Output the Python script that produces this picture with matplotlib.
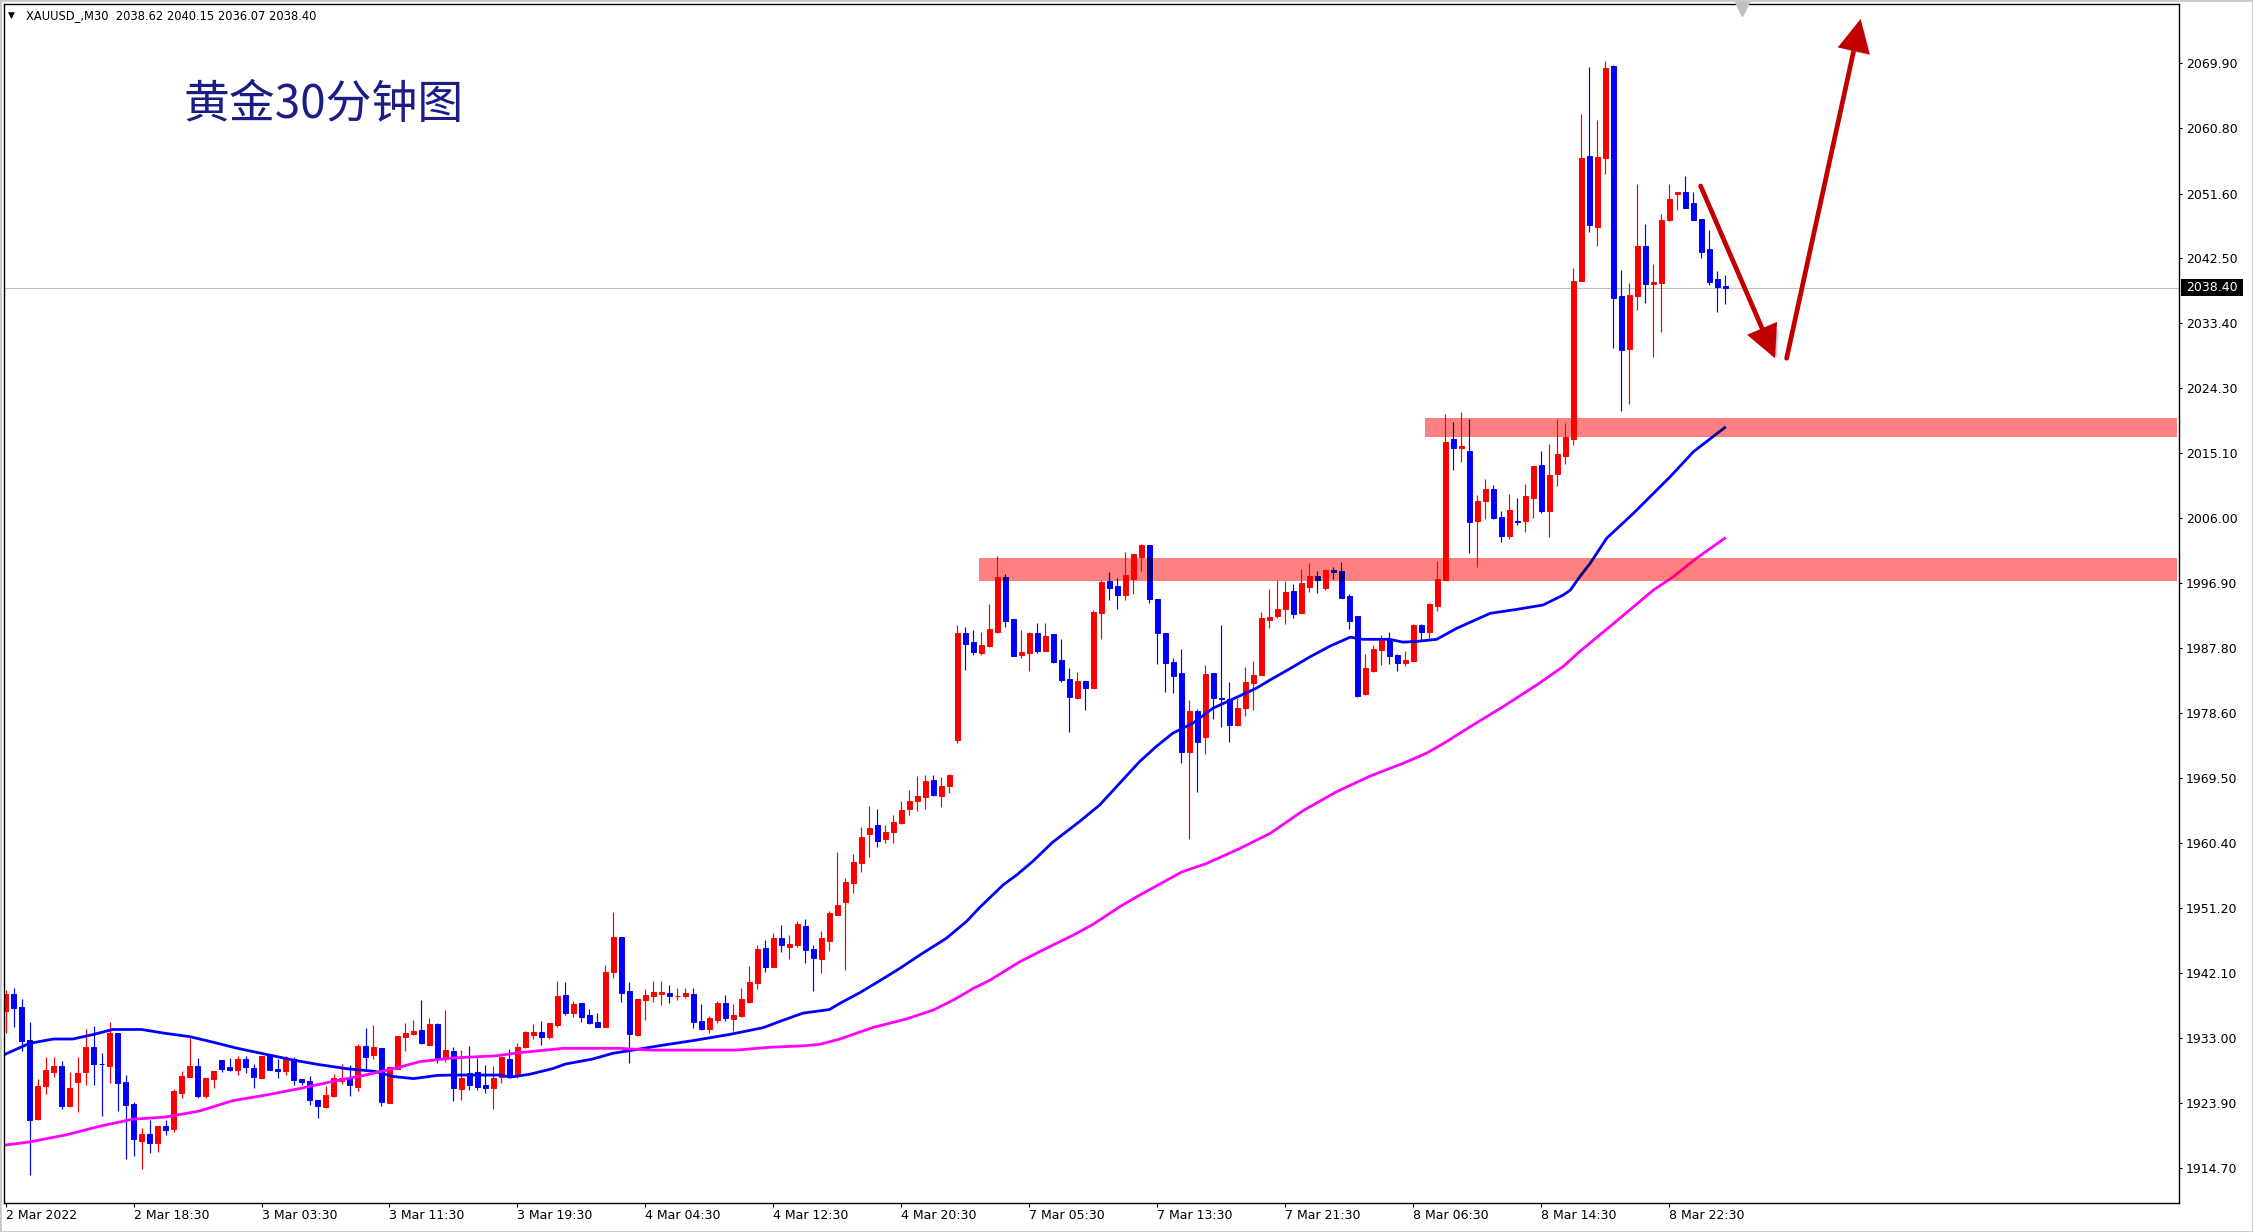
import matplotlib
matplotlib.use("Agg")
import matplotlib.pyplot as plt
import matplotlib.patheffects as pe
import matplotlib.transforms as mtransforms
from matplotlib.patches import Rectangle, FancyArrowPatch, ArrowStyle
import numpy as np

# --- data (XAUUSD, M30) ---
opens = [
    1936.84, 1939.18, 1937.35, 1932.67, 1921.62, 1926.30, 1928.22, 1929.06, 1923.45, 1926.82,
    1928.22, 1931.73, 1929.39, 1929.11, 1933.70, 1926.82, 1923.73, 1918.58, 1919.47, 1918.30,
    1920.64, 1920.22, 1925.32, 1927.57, 1929.06, 1924.85, 1927.29, 1929.91, 1928.92, 1928.50,
    1930.05, 1928.78, 1927.43, 1930.47, 1928.64, 1928.36, 1930.05, 1927.24, 1926.96, 1924.29,
    1923.31, 1924.85, 1926.96, 1927.38, 1926.12, 1931.87, 1930.61, 1931.59, 1923.87, 1928.64,
    1933.14, 1933.56, 1934.13, 1932.07, 1934.97, 1930.24, 1931.18, 1925.89, 1928.13, 1928.23,
    1926.40, 1926.03, 1927.57, 1930.05, 1927.80, 1931.69, 1933.47, 1933.84, 1933.19, 1934.83,
    1939.04, 1936.56, 1937.92, 1936.23, 1935.25, 1934.59, 1942.32, 1947.19, 1939.60, 1933.42,
    1938.39, 1938.95, 1939.23, 1939.32, 1938.85, 1938.95, 1939.18, 1935.39, 1934.31, 1935.58,
    1937.92, 1935.72, 1936.09, 1938.11, 1940.77, 1945.64, 1943.02, 1947.05, 1945.83, 1946.11,
    1948.73, 1945.50, 1944.15, 1946.67, 1950.33, 1952.15, 1954.82, 1957.63, 1961.61, 1962.92,
    1960.91, 1961.89, 1963.15, 1965.12, 1966.34, 1966.81, 1969.24, 1967.04, 1968.44, 1974.86,
    1989.89, 1988.62, 1987.13, 1988.11, 1990.08, 1997.75, 1991.85, 1986.84, 1987.13, 1989.89,
    1987.41, 1989.75, 1986.10, 1983.43, 1980.81, 1983.15, 1982.21, 1992.74, 1997.19, 1996.49,
    1995.27, 1997.52, 2000.61, 2002.25, 1994.66, 1989.89, 1985.81, 1984.27, 1973.22, 1978.93,
    1975.33, 1984.27, 1980.71, 1980.66, 1977.01, 1979.35, 1982.91, 1983.99, 1991.76, 1992.28,
    1993.31, 1995.84, 1992.75, 1996.40, 1997.90, 1996.16, 1998.74, 1998.60, 1995.09, 1992.28,
    1981.37, 1984.55, 1987.55, 1989.09, 1986.85, 1985.72, 1986.00, 1991.01, 1990.08, 1993.73,
    1997.33, 2017.12, 2015.91, 2015.47, 2005.65, 2008.46, 2010.10, 2006.18, 2003.57, 2005.61,
    2005.65, 2008.80, 2013.49, 2007.01, 2012.18, 2014.75, 2017.12, 2039.32, 2056.88, 2046.91,
    2056.63, 2069.55, 2037.24, 2029.84, 2037.24, 2044.25, 2038.88, 2039.03, 2047.93, 2051.51,
    2051.85, 2050.25, 2048.02, 2043.82, 2039.61, 2038.62,
]
highs = [
    1939.74, 1939.97, 1938.48, 1935.20, 1927.19, 1930.33, 1930.33, 1929.77, 1928.22, 1930.33,
    1934.26, 1934.68, 1930.89, 1935.20, 1933.70, 1927.80, 1924.01, 1920.31, 1921.48, 1920.64,
    1921.48, 1925.79, 1928.36, 1932.95, 1930.19, 1927.38, 1928.36, 1929.91, 1930.19, 1930.47,
    1930.47, 1929.35, 1930.47, 1930.47, 1930.09, 1930.47, 1930.33, 1927.24, 1927.66, 1924.29,
    1926.26, 1927.94, 1929.35, 1929.21, 1932.15, 1934.40, 1934.82, 1931.59, 1929.06, 1933.28,
    1935.10, 1935.53, 1938.34, 1935.81, 1935.11, 1936.94, 1931.79, 1931.32, 1931.88, 1930.24,
    1929.21, 1929.07, 1930.38, 1931.46, 1932.30, 1934.03, 1934.97, 1935.39, 1935.11, 1941.06,
    1940.87, 1938.20, 1937.92, 1937.08, 1936.51, 1943.26, 1950.70, 1947.19, 1940.87, 1938.48,
    1939.88, 1941.01, 1941.01, 1940.45, 1940.03, 1940.03, 1940.03, 1937.78, 1936.09, 1938.20,
    1939.04, 1937.78, 1940.03, 1943.11, 1946.06, 1946.77, 1947.75, 1948.87, 1947.47, 1949.44,
    1949.72, 1946.06, 1948.03, 1950.84, 1959.13, 1955.48, 1958.85, 1962.69, 1965.64, 1965.17,
    1962.92, 1964.32, 1966.29, 1967.84, 1969.80, 1969.94, 1969.94, 1969.66, 1970.08, 1991.01,
    1990.73, 1990.31, 1990.03, 1993.96, 2000.70, 1998.17, 1991.85, 1990.31, 1990.03, 1991.29,
    1991.29, 1989.75, 1989.05, 1984.97, 1984.41, 1983.15, 1993.12, 1997.33, 1998.46, 1997.61,
    2001.27, 2000.98, 2002.39, 2002.25, 1994.66, 1989.89, 1986.42, 1987.69, 1980.48, 1979.21,
    1985.39, 1984.27, 1991.01, 1983.01, 1980.76, 1985.16, 1985.95, 1992.84, 1996.07, 1997.33,
    1997.24, 1996.77, 1998.88, 1999.67, 1998.60, 1998.88, 1999.16, 1999.86, 1995.37, 1992.28,
    1986.94, 1988.20, 1989.61, 1990.03, 1986.94, 1987.36, 1991.15, 1991.15, 1994.10, 2000.00,
    2020.65, 2019.53, 2020.89, 2019.92, 2009.28, 2011.55, 2010.73, 2007.01, 2009.43, 2008.89,
    2010.83, 2013.39, 2015.47, 2016.44, 2019.92, 2019.44, 2041.20, 2062.83, 2069.40, 2061.96,
    2070.23, 2069.65, 2040.87, 2039.03, 2052.96, 2047.35, 2041.69, 2048.70, 2052.96, 2051.85,
    2054.12, 2051.85, 2048.02, 2046.53, 2040.72, 2040.15,
]
lows = [
    1933.65, 1934.59, 1931.22, 1913.80, 1921.48, 1925.18, 1927.57, 1923.07, 1923.45, 1922.65,
    1926.44, 1926.44, 1922.09, 1926.72, 1922.79, 1916.05, 1916.42, 1914.64, 1916.89, 1917.03,
    1919.42, 1919.84, 1924.62, 1927.57, 1924.57, 1924.57, 1925.97, 1928.22, 1928.41, 1927.80,
    1928.08, 1925.97, 1927.43, 1928.50, 1927.38, 1927.80, 1926.40, 1926.40, 1923.59, 1921.76,
    1923.17, 1924.71, 1926.54, 1924.85, 1925.55, 1928.50, 1930.05, 1923.45, 1923.87, 1928.64,
    1931.17, 1933.42, 1932.16, 1931.97, 1929.44, 1929.68, 1924.20, 1924.29, 1925.70, 1925.70,
    1925.32, 1923.08, 1926.73, 1927.71, 1927.34, 1931.55, 1932.91, 1932.02, 1932.91, 1934.59,
    1936.28, 1936.00, 1935.30, 1935.02, 1934.59, 1934.59, 1941.48, 1938.11, 1929.54, 1933.28,
    1935.58, 1938.11, 1937.68, 1937.96, 1938.34, 1938.67, 1934.45, 1934.17, 1933.75, 1935.16,
    1935.44, 1934.03, 1936.00, 1937.96, 1939.93, 1942.32, 1943.02, 1945.13, 1944.15, 1945.83,
    1943.58, 1939.65, 1942.18, 1945.27, 1950.33, 1942.60, 1953.42, 1956.37, 1958.38, 1959.88,
    1960.44, 1960.44, 1963.06, 1964.32, 1964.93, 1965.12, 1966.99, 1965.50, 1967.46, 1974.39,
    1984.69, 1986.85, 1986.85, 1987.87, 1989.94, 1990.78, 1986.70, 1986.42, 1984.60, 1987.13,
    1987.41, 1985.72, 1983.05, 1976.03, 1980.66, 1979.07, 1982.21, 1989.09, 1994.52, 1993.31,
    1994.52, 1995.41, 1998.64, 1994.06, 1985.58, 1981.65, 1981.51, 1971.67, 1960.91, 1967.60,
    1972.94, 1977.86, 1976.73, 1974.62, 1976.87, 1978.28, 1979.07, 1983.99, 1990.64, 1992.04,
    1991.15, 1992.04, 1992.75, 1995.70, 1995.55, 1995.93, 1997.52, 1994.85, 1990.50, 1980.85,
    1981.23, 1984.41, 1985.39, 1985.53, 1984.60, 1985.30, 1986.00, 1988.91, 1988.91, 1993.03,
    1997.33, 2012.81, 2013.97, 2001.16, 1999.22, 2005.89, 2005.89, 2002.61, 2003.09, 2005.07,
    2004.11, 2005.99, 2006.77, 2003.38, 2010.59, 2013.64, 2016.29, 2039.32, 2046.19, 2044.25,
    2054.36, 2029.98, 2021.13, 2022.10, 2035.30, 2036.27, 2028.63, 2032.16, 2047.73, 2049.33,
    2049.62, 2047.93, 2042.61, 2038.79, 2035.01, 2036.07,
]
closes = [
    1939.18, 1937.26, 1932.62, 1921.53, 1926.26, 1928.50, 1929.06, 1923.45, 1925.97, 1928.13,
    1931.73, 1929.39, 1929.30, 1933.70, 1926.72, 1923.63, 1918.86, 1919.47, 1918.30, 1920.64,
    1920.12, 1925.55, 1927.66, 1929.06, 1924.85, 1927.38, 1928.36, 1928.69, 1928.50, 1930.05,
    1928.92, 1927.52, 1930.47, 1928.50, 1928.41, 1930.05, 1927.10, 1926.86, 1924.29, 1923.45,
    1924.99, 1927.38, 1927.38, 1926.40, 1931.87, 1930.33, 1931.73, 1924.01, 1928.92, 1933.28,
    1933.70, 1933.98, 1932.25, 1934.97, 1930.15, 1931.32, 1926.03, 1927.43, 1926.45, 1926.17,
    1926.03, 1927.43, 1930.38, 1927.80, 1931.74, 1933.89, 1933.84, 1933.19, 1935.11, 1938.90,
    1936.56, 1937.78, 1936.00, 1935.16, 1934.59, 1942.27, 1947.19, 1939.37, 1933.61, 1938.48,
    1939.04, 1939.46, 1939.46, 1938.95, 1938.90, 1939.32, 1935.30, 1934.31, 1935.81, 1937.92,
    1935.86, 1936.23, 1938.48, 1940.87, 1945.50, 1943.02, 1947.05, 1946.11, 1946.25, 1949.01,
    1945.41, 1944.29, 1947.05, 1950.56, 1951.68, 1954.91, 1957.72, 1961.28, 1962.45, 1960.72,
    1961.89, 1963.34, 1965.03, 1966.29, 1967.00, 1969.10, 1967.13, 1968.40, 1969.94, 1989.89,
    1988.39, 1987.27, 1988.20, 1990.45, 1997.75, 1991.62, 1986.70, 1987.22, 1989.89, 1987.41,
    1989.47, 1985.86, 1983.33, 1980.95, 1983.15, 1982.21, 1992.84, 1997.05, 1996.26, 1995.27,
    1998.03, 2000.98, 2002.25, 1994.71, 1989.94, 1985.72, 1983.90, 1973.22, 1978.93, 1974.62,
    1984.13, 1980.81, 1980.57, 1977.01, 1979.35, 1983.01, 1983.99, 1992.00, 1992.14, 1993.26,
    1995.65, 1992.61, 1996.91, 1997.90, 1997.33, 1998.74, 1998.50, 1994.85, 1991.62, 1981.09,
    1984.97, 1987.64, 1988.91, 1986.70, 1985.72, 1986.10, 1991.01, 1990.08, 1993.96, 1997.47,
    2016.78, 2015.91, 2016.10, 2005.51, 2008.41, 2010.10, 2006.04, 2003.57, 2007.10, 2005.46,
    2009.14, 2013.39, 2007.01, 2012.09, 2015.09, 2017.46, 2039.32, 2056.59, 2047.20, 2056.73,
    2069.26, 2036.99, 2029.69, 2037.38, 2044.25, 2038.84, 2039.13, 2047.93, 2050.83, 2051.85,
    2049.62, 2047.93, 2043.43, 2039.17, 2038.55, 2038.40,
]

# moving averages, read at points along the lines (bar index, price)
fast_ma_x = [0, 3, 6, 8.4, 11, 13.4, 17, 20, 23, 26, 29, 32.6, 36, 39, 42.6, 46.3, 48.4, 51, 54, 56,
             62, 63, 65.5, 68.4, 70, 73.4, 75.9, 78.4, 82.2, 86.3, 90.5, 94.7, 97.2, 99.7, 103, 104.3,
             106.8, 109.3, 111.8, 114.3, 117.6, 120.1, 121.8, 124.7, 126.4, 128.4, 130.9, 134.25,
             136.75, 139.7, 141.75, 143.8, 145.9, 148.4, 150.9, 153.4, 156.3, 158.1, 160.6, 163.1,
             165.6, 168.1, 169.7, 173, 174.7, 176.4, 178.9, 181.4, 183.9, 185.6, 188.9, 192.2,
             194.7, 195.6, 196.8, 198.1, 200.15, 203.5, 208.1, 211, 214.9]
fast_ma_y = [1930.75, 1932.25, 1932.86, 1932.86, 1933.5, 1934.2, 1934.2, 1933.65, 1933.2, 1932.4,
             1931.55, 1930.7, 1929.9, 1929.3, 1928.7, 1928.3, 1927.6, 1927.3, 1927.75, 1927.8,
             1927.8, 1927.5, 1927.9, 1928.7, 1929.35, 1930.05, 1930.85, 1931.3, 1932.0, 1932.7,
             1933.5, 1934.45, 1935.5, 1936.5, 1937.0, 1937.87, 1939.37, 1941.06, 1942.79, 1944.66,
             1947.0, 1949.34, 1951.36, 1954.5, 1955.9, 1957.8, 1960.5, 1963.4, 1965.7, 1969.3,
             1971.8, 1973.9, 1975.8, 1977.2, 1979.3, 1980.6, 1982.1, 1983.3, 1984.9, 1986.56,
             1988.06, 1989.3, 1989.0, 1989.0, 1988.6, 1988.7, 1989.0, 1990.54, 1991.8, 1992.65,
             1993.2, 1993.82, 1995.2, 1995.9, 1997.8, 1999.68, 2003.19, 2006.7, 2011.84, 2015.35,
             2018.72]
slow_ma_x = [0, 3, 7.6, 11.75, 15.9, 20, 24.25, 28.4, 32.6, 36.75, 40.9, 45, 49.25, 51.75, 55.9,
             61.3, 64.25, 69.7, 76.75, 80.9, 91.3, 95.5, 99.7, 101.75, 104.3, 108.5, 112.6, 116,
             118.5, 121, 123.1, 126.8, 130.1, 133.5, 136, 139.3, 141.8, 144.1, 147, 150.1, 154.25,
             158.1, 162.2, 166.4, 170.6, 174.7, 177.6, 180.1, 183.1, 187.2, 191.4, 194.7, 196.8,
             201, 206, 208.5, 211.4, 214.9]
slow_ma_y = [1917.97, 1918.4, 1919.4, 1920.6, 1921.6, 1921.9, 1922.75, 1924.2, 1925.0, 1925.9,
             1926.9, 1927.8, 1928.9, 1929.68, 1930.2, 1930.5, 1930.94, 1931.55, 1931.55, 1931.3,
             1931.3, 1931.7, 1931.9, 1932.1, 1932.86, 1934.5, 1935.67, 1936.94, 1938.34, 1939.98,
             1941.15, 1943.72, 1945.6, 1947.47, 1949.0, 1951.45, 1953.09, 1954.5, 1956.3, 1957.5,
             1959.6, 1961.75, 1964.93, 1967.6, 1969.8, 1971.58, 1972.98, 1974.6, 1976.73, 1979.54,
             1982.58, 1985.16, 1987.3, 1991.2, 1995.92, 1997.8, 2000.4, 2003.19]

date_ticks = [0, 16, 32, 48, 64, 80, 96, 112, 128, 144, 160, 176, 192, 208]
date_labels = ["2 Mar 2022", "2 Mar 18:30", "3 Mar 03:30", "3 Mar 11:30", "3 Mar 19:30",
               "4 Mar 04:30", "4 Mar 12:30", "4 Mar 20:30", "7 Mar 05:30", "7 Mar 13:30",
               "7 Mar 21:30", "8 Mar 06:30", "8 Mar 14:30", "8 Mar 22:30"]
price_labels = ["2069.90", "2060.80", "2051.60", "2042.50", "2033.40", "2024.30", "2015.10",
                "2006.00", "1996.90", "1987.80", "1978.60", "1969.50", "1960.40", "1951.20",
                "1942.10", "1933.00", "1923.90", "1914.70"]

# support zones: (start bar, low price, high price)
zone_start = [121.7, 177.4]
zone_low = [1997.23, 2017.41]
zone_high = [2000.46, 2020.08]

# drawn arrows: (bar, price) from -> to
arrow_from = [(211.9, 2052.67), (222.65, 2028.47)]
arrow_to = [(221.2, 2028.47), (231.9, 2076.12)]

last_price = 2038.40
header = "XAUUSD_,M30  2038.62 2040.15 2036.07 2038.40"
title = "黄金30分钟图"

W, H, DPI = 2253, 1232, 100
fig = plt.figure(figsize=(W / DPI, H / DPI), dpi=DPI)
fig.patch.set_facecolor("white")
ax = fig.add_axes([4 / W, (H - 1202.7) / H, 2175 / W, 1198.7 / H])
ax.set_xlim(-0.19, 271.7)
ax.set_ylim(1909.87, 2078.23)


def draw_bars(ax, up_col, dn_col, fast_col, slow_col, z, clip=None):
    x = np.arange(len(opens))
    o = np.array(opens)
    c = np.array(closes)
    cols = [up_col if cc >= oo else dn_col for oo, cc in zip(o, c)]
    arts = [ax.vlines(x, lows, highs, colors=cols, lw=0.85, zorder=z)]
    bars = ax.bar(x, np.abs(c - o), bottom=np.minimum(o, c), width=0.52, color=cols,
                  edgecolor=cols, linewidth=0.7, zorder=z)
    arts += list(bars.patches)
    arts += ax.plot(fast_ma_x, fast_ma_y, color=fast_col, lw=2.0, zorder=z + 0.5)
    arts += ax.plot(slow_ma_x, slow_ma_y, color=slow_col, lw=2.0, zorder=z + 0.5)
    if clip is not None:
        for a in arts:
            a.set_clip_path(clip)


ax.axhline(last_price, color="#c0c0c0", lw=0.8, zorder=1)
draw_bars(ax, "#ff0000", "#0000ff", "#0000ff", "#ff00ff", 2)

# zones blend like MT4 (multiply): draw zone, then darker copies clipped inside
for xs, lo, hi in zip(zone_start, zone_low, zone_high):
    rect = Rectangle((xs, lo), 271.5 - xs, hi - lo, facecolor="#ff8080", edgecolor="none",
                     zorder=4)
    ax.add_patch(rect)
    draw_bars(ax, "#ff0000", "#000080", "#000080", "#ff0080", 5, clip=rect)

for (x0, y0), (x1, y1) in zip(arrow_from, arrow_to):
    arr = FancyArrowPatch((x0, y0), (x1, y1),
                          arrowstyle=ArrowStyle("-|>", head_length=18, head_width=9),
                          color="#c00000", lw=3.4, shrinkA=0, shrinkB=0, zorder=8,
                          joinstyle="miter")
    arr.set_path_effects([pe.SimplePatchShadow(offset=(3, -3), shadow_rgbFace="#909090",
                                               alpha=0.45), pe.Normal()])
    ax.add_patch(arr)

# axes styling
for sp in ax.spines.values():
    sp.set_color("black")
    sp.set_linewidth(1.0)
ax.yaxis.tick_right()
ax.set_yticks([float(s) for s in price_labels])
ax.set_yticklabels(price_labels)
ax.tick_params(axis="y", direction="out", length=2.0, width=0.8, pad=3.0, labelsize=9,
               colors="black")
ax.set_xticks(date_ticks)
ax.set_xticklabels(date_labels)
for lbl in ax.get_xticklabels():
    lbl.set_horizontalalignment("left")
ax.tick_params(axis="x", direction="out", length=3.0, width=0.8, pad=1.5, labelsize=9)

# current price marker on the scale
tr = mtransforms.blended_transform_factory(ax.transAxes, ax.transData)
ax.add_patch(Rectangle((1.0009, last_price - 1.19), 0.0285, 2.38, transform=tr,
                       facecolor="black", edgecolor="none", clip_on=False, zorder=10))
ax.text(1.0032, last_price, f"{last_price:.2f}", transform=tr, color="white", fontsize=9,
        va="center", ha="left", clip_on=False, zorder=11)

# chart shift marker
trx = mtransforms.blended_transform_factory(ax.transData, ax.transAxes)
ax.plot([217.06], [0.9955], marker="v", ms=10, color="#c0c0c0", transform=trx,
        clip_on=False, zorder=10)

fig.text(8 / W, 1 - 15.5 / H, "▼", fontsize=6.5, va="center", ha="left")
fig.text(25.5 / W, 1 - 15.5 / H, header, fontsize=8.3, va="center", ha="left")
fig.text(183 / W, 1 - 104.5 / H, title, fontsize=33, color="#1c1c86", va="center", ha="left",
         family=["Noto Sans CJK SC", "DejaVu Sans"])

fig.add_artist(Rectangle((0, 0), 1, 1, transform=fig.transFigure, fill=False,
                         edgecolor="#c8c8c8", lw=2))

fig.savefig("out.png", dpi=DPI)
